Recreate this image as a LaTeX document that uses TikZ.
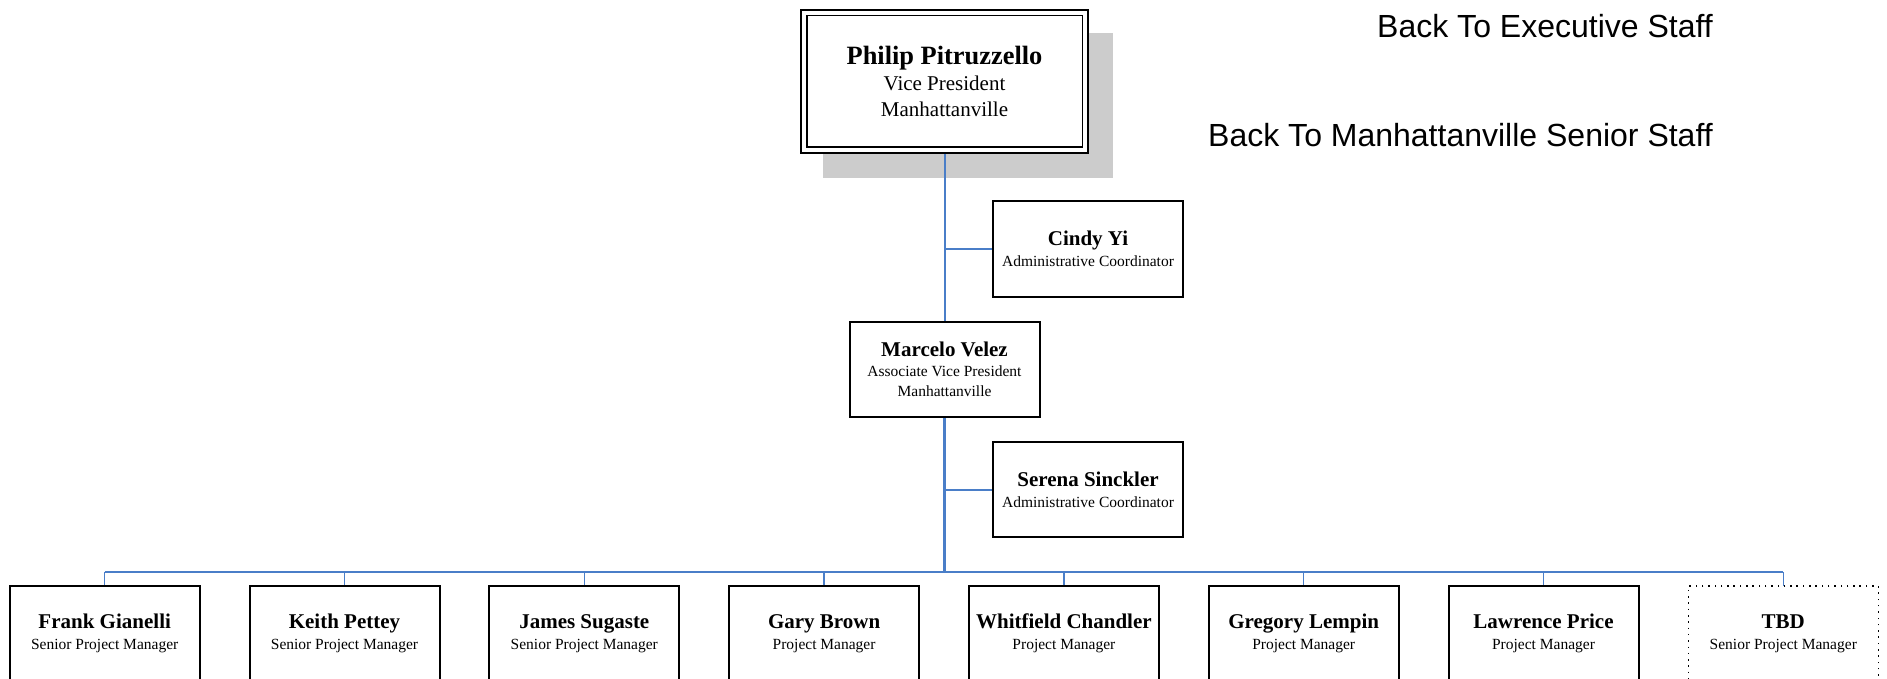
\documentclass[tikz,border=0pt]{standalone}
\usepackage{fontspec}
\setmainfont{Liberation Serif}
\newfontfamily\arialf{Liberation Sans}
\usetikzlibrary{backgrounds}
\definecolor{conn}{RGB}{74,126,200}
\definecolor{shadowgray}{RGB}{204,204,204}
\newcommand{\who}[2]{{\fontsize{21}{21}\selectfont\bfseries #1}\\#2}
\begin{document}
\begin{tikzpicture}[x=1pt,y=-1pt,
  box/.style={draw=black,line width=2pt,fill=white,minimum width=190pt,minimum height=95pt,
    inner sep=0pt,outer sep=0pt,align=center,font=\fontsize{15.5}{21}\selectfont},
  tbdbox/.style={box,draw=black,line width=1.5pt,dash pattern=on 1.5pt off 4.8pt},
  link/.style={draw=conn,line width=2pt},
  thinlink/.style={draw=conn,line width=1.5pt},
  thicklink/.style={draw=conn,line width=3pt},
  backlink/.style={font=\arialf\fontsize{32}{32}\selectfont,inner sep=0pt,anchor=base east}]
\clip (0,0) rectangle (1887,679);

% top box (double border)
\node[draw=black,line width=1.75pt,double=white,double distance=4pt,fill=white,
  minimum width=281.5pt,minimum height=137.5pt,inner sep=0pt,outer sep=0pt,align=center,
  font=\fontsize{21}{26}\selectfont] (top) at (944.5,81.5)
  {{\fontsize{26.4}{26}\selectfont\bfseries Philip Pitruzzello}\\Vice President\\Manhattanville};

\node[box,font=\fontsize{15.5}{20}\selectfont] (mv) at (944.5,369.5)
  {{\fontsize{21}{20}\selectfont\bfseries Marcelo Velez}\\Associate Vice President\\Manhattanville};

\node[box] (cy) at (1088,249) {\who{Cindy Yi}{Administrative Coordinator}};
\node[box] (ss) at (1088,489.5) {\who{Serena Sinckler}{Administrative Coordinator}};

\node[box] (b0) at (104.7,633.5) {\who{Frank Gianelli}{Senior Project Manager}};
\node[box] (b1) at (344.5,633.5) {\who{Keith Pettey}{Senior Project Manager}};
\node[box] (b2) at (584.3,633.5) {\who{James Sugaste}{Senior Project Manager}};
\node[box] (b3) at (824.1,633.5) {\who{Gary Brown}{Project Manager}};
\node[box] (b4) at (1063.9,633.5) {\who{Whitfield Chandler}{Project Manager}};
\node[box] (b5) at (1303.7,633.5) {\who{Gregory Lempin}{Project Manager}};
\node[box] (b6) at (1543.5,633.5) {\who{Lawrence Price}{Project Manager}};
\node[tbdbox] (b7) at (1783.3,633.5) {\who{TBD}{Senior Project Manager}};

\node[backlink] (exec) at (1713,37.5) {Back To Executive Staff};
\node[backlink] (senior) at (1713,147) {Back To Manhattanville Senior Staff};

\begin{scope}[on background layer]
  \fill[white] (0,0) rectangle (1887,679);
  \fill[shadowgray] (823,33) rectangle (1113,178);
  \path (mv.south) ++(0,155) coordinate (bus);
  \draw[link] (top.south) -- (mv.north);
  \draw[link] (cy.west) -- (cy.west -| mv.north);
  \draw[link] (ss.west) -- (ss.west -| mv.north);
  \draw[thicklink] (mv.south) -- (bus);
  \draw[link,line width=2.5pt] (bus -| b0.north) -- (bus -| b7.north);
  \foreach \i in {0,...,7} {
    \draw[thinlink] (bus -| b\i.north) -- (b\i.north);
  }
\end{scope}
\end{tikzpicture}
\end{document}
